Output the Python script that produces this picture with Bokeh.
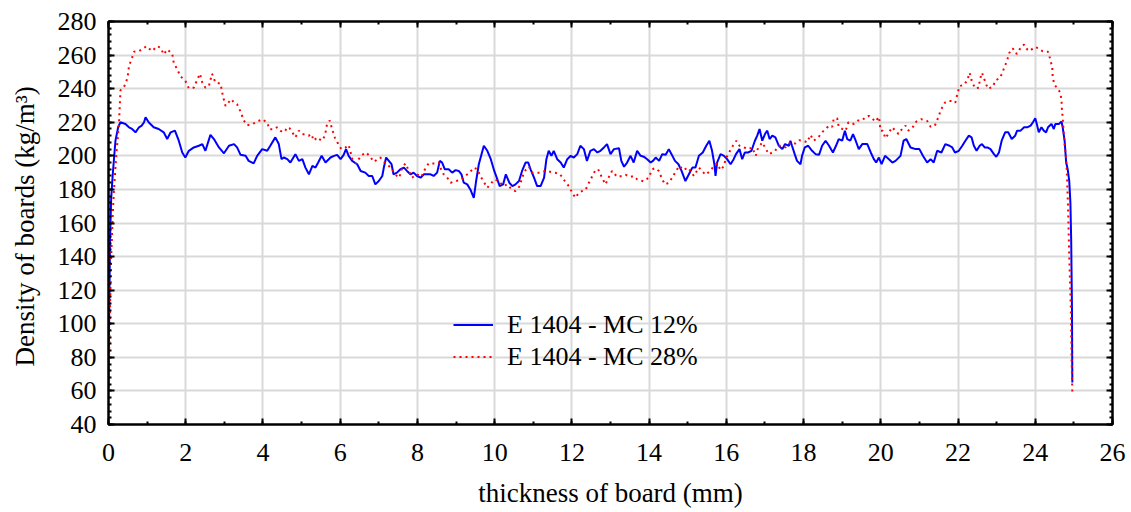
from bokeh.plotting import figure
from bokeh.models import (LinearAxis, SingleIntervalTicker, Range1d, Legend, LegendItem,
                          CustomJSTickFormatter)
from bokeh.embed import file_html
from bokeh.resources import INLINE

# ---- data ----
x_tick_values = list(range(0, 27, 2))
y_tick_values = list(range(40, 281, 20))
series_labels = ["E 1404 - MC 12%", "E 1404 - MC 28%"]

x_mc12 = [0.00, 0.02, 0.04, 0.07, 0.11, 0.18, 0.25, 0.31, 0.44, 0.53, 0.61, 0.70, 0.79, 0.86, 0.92, 0.96,
          1.04, 1.17, 1.30, 1.43, 1.52, 1.61, 1.72, 1.82, 1.91, 1.99, 2.08, 2.21, 2.34, 2.43, 2.51, 2.64,
          2.73, 2.86, 2.99, 3.12, 3.25, 3.33, 3.42, 3.55, 3.63, 3.76, 3.85, 3.98, 4.11, 4.19, 4.32,
          4.41, 4.48, 4.54, 4.63, 4.71, 4.84, 4.93, 5.02, 5.10, 5.19, 5.28, 5.36, 5.43, 5.52, 5.62, 5.75,
          5.84, 5.92, 6.01, 6.09, 6.15, 6.22, 6.31, 6.44, 6.53, 6.65, 6.74, 6.83, 6.91, 7.00, 7.09, 7.13,
          7.19, 7.26, 7.33, 7.38, 7.47, 7.56, 7.65, 7.73, 7.82, 7.90, 7.99, 8.08, 8.17, 8.25, 8.34, 8.42,
          8.51, 8.58, 8.64, 8.71,
          8.81, 8.90, 8.99, 9.07, 9.14, 9.20, 9.29, 9.37, 9.46, 9.52, 9.59, 9.66, 9.72, 9.81, 9.90, 9.99,
          10.07, 10.13, 10.22, 10.29, 10.38, 10.46, 10.54, 10.63, 10.71, 10.80, 10.87, 10.93, 11.02, 11.10,
          11.19, 11.28, 11.34, 11.40, 11.47, 11.53, 11.62, 11.71, 11.79, 11.88, 11.97, 12.05, 12.14, 12.22,
          12.31, 12.39, 12.48, 12.57, 12.66, 12.74, 12.83, 12.91, 13.00, 13.09,
          13.22, 13.28, 13.35, 13.43, 13.52, 13.60, 13.69, 13.78, 13.86, 13.95, 14.04, 14.10, 14.17, 14.26,
          14.34, 14.43, 14.51, 14.58, 14.67, 14.76, 14.84, 14.94, 15.03, 15.12, 15.20, 15.29, 15.39, 15.48,
          15.56, 15.63, 15.69, 15.72, 15.76, 15.85, 15.94, 16.02, 16.11, 16.19, 16.25, 16.34, 16.41, 16.48,
          16.56, 16.65, 16.74, 16.80, 16.86, 16.93, 17.00, 17.06, 17.12, 17.19, 17.27, 17.36, 17.45, 17.52,
          17.62, 17.66, 17.70, 17.77, 17.83, 17.92, 17.96, 18.03, 18.12, 18.22, 18.31, 18.40, 18.48, 18.57,
          18.66, 18.76, 18.84, 18.91, 19.00, 19.07, 19.13, 19.21, 19.28, 19.35, 19.43, 19.52, 19.65, 19.74,
          19.82, 19.88, 19.95, 20.02, 20.11, 20.21, 20.30, 20.38, 20.51, 20.59, 20.66, 20.77, 20.90, 21.00,
          21.09, 21.20, 21.29, 21.37, 21.46, 21.57, 21.67, 21.78, 21.85, 21.92,
          22.02, 22.11, 22.19, 22.28, 22.35, 22.41, 22.48, 22.56, 22.62, 22.69, 22.76, 22.84, 22.93, 22.99,
          23.06, 23.13, 23.22, 23.30, 23.39, 23.48, 23.53, 23.62, 23.71, 23.79, 23.88, 23.94, 24.00, 24.05,
          24.09, 24.16, 24.22, 24.28, 24.33, 24.42, 24.48, 24.52, 24.61, 24.68, 24.71, 24.76,
          24.80, 24.84, 24.88, 24.91, 24.93, 24.95, 24.96]
y_mc12 = [62, 110, 150, 175, 189, 209, 217, 220, 219, 217, 216, 214, 217, 218, 220, 223,
          220, 217, 216, 214, 210, 214, 215, 209, 202, 199, 203, 205, 206, 207, 203, 212.5,
          210, 205, 201.5, 206, 207, 205, 200.6, 200, 197, 195.5, 200, 204, 203, 206, 211,
          207, 198, 199, 198, 196, 201, 197, 198, 193, 189, 194, 193, 196, 200, 196, 199,
          200, 200.6, 198, 200.6, 204, 200, 197, 195, 191, 190, 188, 188, 183, 185, 188, 193,
          199, 197, 195, 189, 190, 192, 193, 191, 189, 190, 188, 187, 189, 189, 189, 188,
          190, 197, 196, 192,
          192, 190, 191.5, 191, 189, 184, 183, 180, 175, 185, 195, 201, 206, 203, 198, 191,
          186, 182, 183, 189, 184, 182, 183, 185, 191, 196, 196, 192, 187, 182,
          182, 187, 198, 203, 200, 203, 198, 196, 193, 198, 200, 199, 201, 206,
          204, 197, 203, 204, 202, 203, 205, 207, 201, 204,
          204.5, 197, 193.5, 196, 200, 196, 203, 200, 199.5, 198, 196, 197, 199, 197,
          201, 200.6, 204, 201, 197, 195, 191, 185, 189, 193, 193, 200, 202, 206,
          209, 203, 195, 188, 196, 201, 200, 198, 195, 198, 201, 204, 198, 202,
          202, 203, 209, 212, 216, 209, 213, 215, 210, 212, 211, 206, 204, 207,
          206, 209, 206, 201, 197, 195, 200, 205, 206, 203, 201, 200.6, 206, 209,
          206, 202, 206, 210, 209, 215, 210, 209, 213, 209, 204, 207, 207, 202,
          198, 196, 199, 195, 200, 198, 196, 197, 200, 209, 210, 205, 204, 204,
          200, 196, 198, 196, 203, 202, 207, 206, 205, 202,
          203, 206, 209, 212, 211, 206, 203, 206, 207, 205, 205, 204, 201, 199.4,
          202, 209, 214, 214, 210, 212, 215, 215, 217, 217, 218, 220, 222.4, 218,
          214, 217, 215, 214, 217, 219, 216, 219, 219, 220.4, 217, 209,
          196, 192, 185, 172, 150, 110, 65]

x_mc28 = [0.00, 0.03, 0.07, 0.11, 0.14, 0.20, 0.27, 0.31, 0.40, 0.46, 0.51, 0.53, 0.61, 0.66, 0.79, 0.87,
          0.98, 1.13, 1.26, 1.35, 1.43, 1.52, 1.65, 1.69, 1.78, 1.86, 1.99, 2.08, 2.21, 2.30, 2.37, 2.43,
          2.51, 2.60, 2.68, 2.77, 2.90, 2.96, 3.03, 3.18, 3.25, 3.33, 3.42, 3.50, 3.59, 3.72, 3.85, 3.98,
          4.11, 4.17, 4.28,
          4.36, 4.45, 4.51, 4.58, 4.62, 4.69, 4.76, 4.84, 4.93, 5.02, 5.12, 5.19, 5.25, 5.32, 5.40, 5.52,
          5.58, 5.62, 5.66, 5.73, 5.79, 5.86, 5.95, 6.03, 6.14, 6.22, 6.27, 6.33, 6.40, 6.48, 6.57, 6.67,
          6.78, 6.87, 6.94, 7.04, 7.13, 7.26, 7.34, 7.43, 7.53, 7.60, 7.69, 7.78, 7.86, 7.99, 8.10, 8.21,
          8.29, 8.38, 8.46, 8.55, 8.61, 8.68,
          8.77, 8.86, 8.99, 9.14, 9.24, 9.35, 9.46, 9.55, 9.63, 9.68, 9.81, 9.90, 10.00, 10.11, 10.22, 10.33,
          10.44, 10.54, 10.65, 10.71, 10.80, 10.89, 10.97, 11.06, 11.19, 11.30, 11.40, 11.53, 11.66, 11.75,
          11.82, 11.92, 12.01, 12.09, 12.18, 12.26, 12.35, 12.42, 12.52, 12.61, 12.68, 12.77, 12.87, 12.96,
          13.04,
          13.17, 13.30, 13.39, 13.52, 13.60, 13.69, 13.86, 13.99, 14.08, 14.16, 14.25, 14.34, 14.41, 14.52,
          14.62, 14.71, 14.79, 14.88, 15.01, 15.16, 15.29, 15.38, 15.46, 15.58, 15.68, 15.76, 15.85, 15.94,
          15.98, 16.07, 16.17, 16.26, 16.34, 16.46, 16.58, 16.67, 16.76, 16.82, 16.93, 17.01, 17.10, 17.25,
          17.36, 17.45,
          17.53, 17.66, 17.79, 17.89, 18.00, 18.09, 18.18, 18.26, 18.38, 18.48, 18.57, 18.66, 18.74, 18.78,
          18.87, 18.91, 19.00, 19.09, 19.16, 19.30, 19.41, 19.52, 19.62, 19.69, 19.77, 19.86, 19.95, 19.97,
          19.99, 20.05, 20.12, 20.22, 20.29, 20.38, 20.46, 20.55, 20.64, 20.71, 20.81, 20.92, 21.05, 21.20,
          21.29, 21.40, 21.48, 21.55, 21.66, 21.76, 21.85, 21.93,
          21.98, 22.04, 22.15, 22.24, 22.30, 22.35, 22.44, 22.54, 22.56, 22.62, 22.69, 22.77, 22.90, 22.97,
          23.07, 23.14, 23.18, 23.27, 23.33, 23.42, 23.47, 23.53, 23.62, 23.71, 23.79, 23.85, 23.99, 24.09,
          24.18, 24.28, 24.33, 24.39, 24.44, 24.45, 24.49, 24.57, 24.65, 24.68, 24.69, 24.71, 24.74, 24.76,
          24.80, 24.82, 24.85, 24.88, 24.92, 24.94, 24.96]
y_mc28 = [60, 100, 140, 165, 179, 200, 219, 239, 241, 244, 249, 253.5, 258.4, 262, 262.4, 263.4,
          265.3, 262.4, 265.3, 264.4, 260.4, 263.4, 260.8, 255.4, 251.5, 247.5, 244.6, 240.2, 240.6, 245.5, 248.9, 243.6,
          240.6, 241.6, 248.9, 243.6, 243, 236, 229.7, 233.7, 231.7, 230.7, 226.3, 221.2, 218.2, 218.8, 220.4, 221.8,
          219.8, 215.8, 215.8,
          217, 215, 214, 215, 217, 216.4, 214, 211, 215, 213, 212.5, 212, 213, 209, 211, 209,
          211, 214, 219, 221, 216, 211, 207, 204, 205, 206.5, 202, 196.6, 195.5, 198, 200.6, 202,
          199.4, 196.4, 197.5, 199, 196.6, 194, 192, 188.7, 187, 192.7, 195.5, 191, 187, 189, 187.5, 192.7,
          195.5, 195.5, 195.5, 196, 192, 189,
          187, 184, 185, 185.6, 188, 190, 193, 192, 188, 186, 181, 183.5, 186, 185, 182, 183,
          180, 179, 182, 187, 191.5, 193.5, 190, 190, 190, 191, 190.7, 190, 189.5, 187.5,
          184.8, 182, 178, 175, 178, 179, 179.6, 183, 187.5, 191.5, 192, 187.5, 183, 187.5,
          191,
          187.5, 188, 188.7, 187.5, 188, 186, 184.8, 187, 192, 192.7, 191, 186, 183, 184,
          188, 191.5, 194, 191.5, 193, 188, 193, 190.7, 188.7, 191, 194, 195.5, 191.5, 194,
          198, 202, 206, 209, 206, 205, 204, 205, 200, 204.6, 208, 204.6, 201, 202.6,
          206, 206,
          205, 208, 207.3, 209.3, 209, 208, 212.5, 209, 211, 214, 216, 218, 217.3, 222,
          222.4, 217.3, 216, 215, 220, 219, 221, 221.2, 223.2, 223.8, 222.4, 220.4, 223.2, 220,
          215, 215, 210.5, 214, 217, 215, 213, 216, 218, 215, 216.4, 220.4, 221.8, 220.8,
          217.3, 218, 222.4, 227, 231.7, 232.7, 232.7, 231.7,
          236.6, 241.6, 242.2, 245, 249.5, 245, 240.2, 240.6, 245, 249.5, 245, 240, 241, 245,
          246.1, 249, 251.5, 256.8, 261.4, 264, 261.4, 260.8, 264.4, 266.3, 263.4, 262.4, 264.8, 264,
          262.4, 262, 262, 257.4, 252.5, 247.5, 242.6, 240.2, 237.6, 232.7, 227.7, 222.8, 212.9, 207,
          198, 189, 168.3, 140, 110, 80, 59]

FONT = "Liberation Serif"

p = figure(width=1131, height=512, x_range=Range1d(0, 26), y_range=Range1d(40, 280),
           output_backend="svg", toolbar_location=None,
           min_border_left=108, min_border_right=19, min_border_top=21, min_border_bottom=88)
p.background_fill_color = "white"
p.border_fill_color = "white"
p.outline_line_color = "black"
p.outline_line_width = 2

xt = SingleIntervalTicker(interval=2, num_minor_ticks=2)
yt = SingleIntervalTicker(interval=20, num_minor_ticks=5)


def style_axis(ax, ticker):
    ax.ticker = ticker
    ax.axis_line_color = "black"
    ax.axis_line_width = 2
    ax.major_tick_in = 6
    ax.major_tick_out = 0
    ax.minor_tick_in = 3
    ax.minor_tick_out = 0
    ax.major_tick_line_color = "black"
    ax.major_tick_line_width = 2
    ax.minor_tick_line_color = "black"
    ax.minor_tick_line_width = 2
    ax.major_label_text_font = FONT
    ax.major_label_text_font_size = "26px"
    ax.major_label_text_color = "black"
    ax.axis_label_text_font = FONT
    ax.axis_label_text_font_size = "27px"
    ax.axis_label_text_font_style = "normal"
    ax.axis_label_text_color = "black"


xa = p.xaxis[0]
ya = p.yaxis[0]
style_axis(xa, xt)
style_axis(ya, yt)
xa.axis_label = "thickness of board (mm)"
ya.axis_label = "Density of boards  (kg/m\u00b3)"
xa.major_label_standoff = 19
ya.major_label_standoff = 12
xa.axis_label_standoff = 14
ya.axis_label_standoff = 15

blank = CustomJSTickFormatter(code="return ''")
top = LinearAxis()
right = LinearAxis()
for ax, tk in ((top, SingleIntervalTicker(interval=2, num_minor_ticks=2)),
               (right, SingleIntervalTicker(interval=20, num_minor_ticks=5))):
    style_axis(ax, tk)
    ax.formatter = blank
    ax.major_label_text_font_size = "1px"
    ax.major_label_standoff = 0
p.add_layout(top, "above")
p.add_layout(right, "right")

p.xgrid.ticker = xt
p.ygrid.ticker = yt
p.grid.grid_line_color = "#d9d9d9"
p.grid.grid_line_width = 2

r1 = p.line(x_mc12, y_mc12, line_color="#0000ff", line_width=2)
r2 = p.line(x_mc28, y_mc28, line_color="#ff0000", line_width=2, line_dash="2 4")

legend = Legend(items=[LegendItem(label=series_labels[0], renderers=[r1]),
                       LegendItem(label=series_labels[1], renderers=[r2])],
                location=(345, 52), orientation="vertical",
                label_text_font=FONT, label_text_font_size="26px", label_text_color="black",
                glyph_width=40, glyph_height=31, label_height=31, spacing=1,
                padding=0, margin=0, label_standoff=14,
                border_line_color=None, background_fill_alpha=0)
p.add_layout(legend)

open("out.html", "w").write(file_html(p, INLINE))
